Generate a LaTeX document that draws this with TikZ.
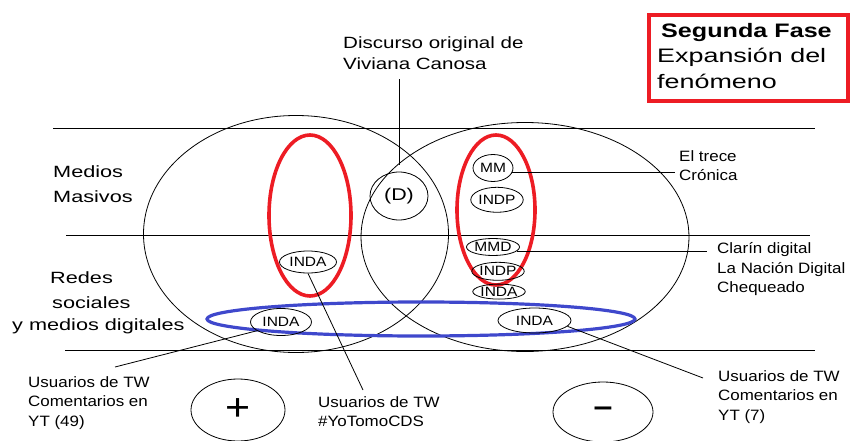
\documentclass[tikz,border=0pt]{standalone}
\usepackage{fontspec}
\setmainfont{Liberation Sans}[FakeStretch=1.13]
\newfontfamily\widefont{Liberation Sans}[FakeStretch=1.33]
\newfontfamily\discfont{Liberation Sans}[FakeStretch=1.26]
\newfontfamily\fasefont{Liberation Sans}[FakeStretch=1.38]
\newfontfamily\fasebold{Liberation Sans}[FakeStretch=1.29]
\newfontfamily\tagfont{Liberation Sans}[FakeStretch=1.15]
\usetikzlibrary{shapes,positioning,fit,calc}
\definecolor{markred}{RGB}{237,28,36}
\definecolor{markblue}{RGB}{63,72,204}

\begin{document}
\begin{tikzpicture}
            [x=1pt, y=-1pt,
            zone/.style={ellipse, draw, line width=0.8pt, inner sep=0pt},
            ring/.style={ellipse, draw=#1, line width=3.6pt, inner sep=0pt},
            actor/.style={ellipse, draw, line width=0.8pt, inner sep=0pt,
                font=\tagfont\fontsize{13.5}{13.5}\selectfont},
            note/.style={anchor=north west, align=left, inner sep=0pt,
                font=\fontsize{15}{19.6}\selectfont},
            side/.style={anchor=north west, align=left, inner sep=0pt,
                font=\widefont\fontsize{16.3}{25.5}\selectfont}
            ]
            \useasboundingbox (0,0) rectangle (851,441);

            \foreach \y/\a/\b in {128/53/815, 235/66/810, 350/65/815}
            \draw [line width=0.8pt] (\a,\y) -- (\b,\y);

            \node (left) [zone, minimum width=305pt, minimum height=237pt] at (296,234) {};
            \node (right) [zone, minimum width=328pt, minimum height=229pt] at (525,237) {};
            \node (d) [zone, minimum width=58pt, minimum height=48pt,
                font=\discfont\fontsize{17}{17}\selectfont] at (399,196) {(D)};

            % Marked groups
            \node (redl) [ring=markred, minimum width=82pt, minimum height=161pt] at (310,215.5) {};
            \node (redr) [ring=markred, minimum width=78pt, minimum height=150pt] at (496,210) {};
            \node (blue) [ring=markblue, line width=3.2pt, minimum width=428pt,
                minimum height=34pt] at (421,319) {};

            \node (mm) [actor, minimum width=40pt, minimum height=27pt] at (493,168) {MM};
            \node (indp) [below=5pt of mm, xshift=4pt, actor, minimum width=46pt,
                minimum height=25pt] {INDP};
            \node (mmd) [actor, minimum width=53pt, minimum height=17pt] at (493,247) {MMD};
            \node (indp2) [below=6pt of mmd, xshift=5pt, actor, minimum width=49pt,
                minimum height=18pt] {INDP};
            \node (inda) [below=3pt of indp2, xshift=1pt, actor, minimum width=52pt,
                minimum height=15pt] {INDA};
            \node (ia) [actor, minimum width=57pt, minimum height=22pt] at (308,262) {INDA};
            \node (ib) [actor, minimum width=61pt, minimum height=27pt] at (281,322) {INDA};
            \node (ic) [actor, minimum width=73pt, minimum height=25pt] at (534.5,320.5) {INDA};

            \node (plus) [zone, minimum width=94pt, minimum height=62pt,
                font=\fontsize{38}{38}\selectfont] at (238,410) {+};
            \node (minus) [zone, minimum width=100pt, minimum height=60pt,
                font=\bfseries\fontsize{30}{30}\selectfont] at (603,412) {–};

            % Labels
            \node (medios) [side] at (53,165) {Medios\\Masivos};
            \node (redes) [side] at (12,271)
                {\hspace*{38pt}Redes\\\hspace*{40pt}sociales\\[-3.7pt]y medios digitales};
            \node (disc) [note, font=\discfont\fontsize{16.3}{21}\selectfont] at (343,36)
                {Discurso original de\\Viviana Canosa};
            \node (trece) [note] at (679,150) {El trece\\Crónica};
            \node (clarin) [note] at (717,242.5) {Clarín digital\\La Nación Digital\\Chequeado};
            \node (usl) [note] at (28,376) {Usuarios de TW\\Comentarios en\\YT (49)};
            \node (usc) [note] at (318,396) {Usuarios de TW\\\#YoTomoCDS};
            \node (usr) [note] at (718,370) {Usuarios de TW\\Comentarios en\\YT (7)};

            \node (fase) [draw=markred, line width=3.5pt, minimum width=199pt,
                minimum height=86pt] at (748.5,58) {};
            \node (fasetext) [anchor=north west, align=left, inner sep=0pt,
                font=\fasefont\fontsize{19.5}{25.5}\selectfont] at (657,23)
                {\hspace*{4pt}{\fasebold\bfseries Segunda Fase}\\Expansión del\\fenómeno};

            \coordinate (tw1) at ([xshift=87pt, yshift=9pt]usl.north west);
            \coordinate (tw2) at ([xshift=45pt, yshift=6pt]usc.north west);
            \coordinate (tw3) at ([xshift=-15pt, yshift=-8pt]usr.north west);

            \draw [line width=0.8pt, shorten <=7pt, shorten >=10pt] (d.north) -- (d.north |- disc.south);
            \draw [line width=0.8pt, shorten >=4pt] (mm.-12) -- (mm.-12 -| trece.west);
            \draw [line width=0.8pt, shorten >=10pt] (mmd.-10) -- (mmd.-10 -| clarin.west);
            \foreach \i/\j in {ia.south/tw2, ib.200/tw1, ic.-10/tw3}
            \draw [line width=0.8pt] (\i) -- (\j);
        \end{tikzpicture}
\end{document}
